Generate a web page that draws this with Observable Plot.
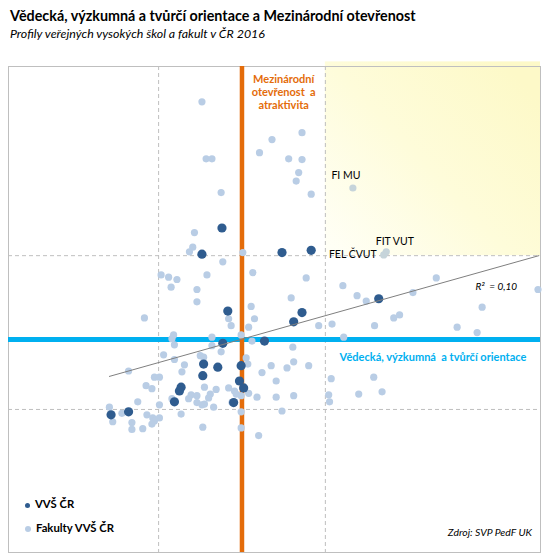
<!DOCTYPE html>
<html><head><meta charset="utf-8">
<script src="https://cdn.jsdelivr.net/npm/d3@7"></script>
<script src="https://cdn.jsdelivr.net/npm/@observablehq/plot@0.6"></script>
<style>
html,body{margin:0;padding:0;background:#fff;}
body{width:548px;height:559px;position:relative;overflow:hidden;font-family:Lato,"Open Sans",sans-serif;color:#000;}
#title{position:absolute;left:10px;top:7px;font-weight:bold;font-size:14.3px;line-height:17px;white-space:nowrap;}
#subtitle{position:absolute;left:10px;top:26px;font-style:italic;font-size:12.4px;line-height:15px;white-space:nowrap;}
#chart{position:absolute;left:0;top:56px;}
.leg{position:absolute;left:25px;font-weight:bold;font-size:11.3px;line-height:14px;white-space:nowrap;}
.leg span.d{display:inline-block;border-radius:50%;vertical-align:middle;margin-right:5px;}
#source{position:absolute;right:16px;top:525px;font-style:italic;font-size:10.4px;line-height:14px;white-space:nowrap;}
</style>
</head><body>
<div id="title"></div>
<div id="subtitle"></div>
<div id="chart"></div>
<div class="leg" id="leg1" style="top:497px"></div>
<div class="leg" id="leg2" style="top:521px"></div>
<div id="source"></div>
<script>
const titleText = "Vědecká, výzkumná a tvůrčí orientace a Mezinárodní otevřenost";
const subtitleText = "Profily veřejných vysokých škol a fakult v ČR 2016";
const sourceText = "Zdroj: SVP PedF UK";
const seriesNames = ["VVŠ ČR", "Fakulty VVŠ ČR"];
const xLabel = "Vědecká, výzkumná  a tvůrčí orientace";
const yLabel = "Mezinárodní\notevřenost  a\natraktivita";
const r2Label = "R²  = 0,10";

// Fakulty VVŠ ČR  [x = vědecká orientace, y = mezinárodní otevřenost]
const faculties = [
[-0.48,3.00],[0.36,2.51],[0.72,2.60],[0.21,2.34],[-0.43,2.26],[-0.36,2.26],[0.56,2.26],[0.72,2.25],
[0.68,2.08],[0.65,1.97],[0.83,1.80],[-0.25,1.82],[-0.57,1.30],[-0.59,1.11],[-0.63,1.05],[0.01,1.04],
[-0.23,0.92],[0.13,0.78],[-0.42,0.75],[-0.97,0.75],[-0.88,0.72],[-0.78,0.69],[-0.85,0.59],[-0.54,0.56],
[-0.54,0.40],[0.11,0.34],[0.77,0.71],[1.21,0.61],[1.38,0.48],[1.49,0.41],[0.59,0.45],[2.05,0.52],
[2.33,0.71],[3.55,0.56],[2.88,0.33],[-1.17,0.19],[-0.16,0.18],[0.15,0.18],[-0.13,0.09],[0.08,0.07],
[-0.82,-0.03],[-0.84,-0.08],[-0.81,-0.16],[-0.36,-0.06],[-0.36,-0.17],[-0.01,-0.03],[0.12,-0.11],[0.92,0.09],
[1.08,0.11],[1.59,0.09],[1.82,0.19],[1.89,0.23],[1.22,-0.06],[2.58,0.07],[2.82,0.00],[-0.25,-0.25],
[-0.94,-0.29],[-0.50,-0.30],[-0.46,-0.32],[-0.81,-0.35],[-0.69,-0.42],[0.05,-0.33],[0.07,-0.41],[0.61,-0.19],
[0.62,-0.38],[0.54,-0.46],[0.80,-0.43],[0.35,-0.43],[-1.36,-0.50],[-0.72,-0.51],[-1.05,-0.58],[-0.99,-0.58],
[0.24,-0.52],[0.41,-0.63],[1.07,-0.60],[1.58,-0.58],[-1.15,-0.69],[-1.08,-0.73],[-0.45,-0.71],[-0.31,-0.74],
[-0.16,-0.72],[-0.09,-0.76],[-0.07,-0.80],[-0.01,-0.82],[0.08,-0.79],[0.18,-0.84],[0.41,-0.84],[0.62,-0.82],
[1.04,-0.81],[1.05,-0.90],[1.40,-0.80],[1.68,-0.77],[-1.25,-0.90],[-0.84,-0.86],[-0.64,-0.86],[-0.61,-0.81],
[-0.54,-0.82],[-0.38,-0.80],[-0.40,-0.85],[-0.54,-0.91],[-0.48,-0.94],[-0.45,-0.93],[-0.34,-0.97],[-0.12,-0.91],
[-0.99,-0.94],[-0.73,-1.06],[-0.01,-1.03],[0.48,-1.02],[-1.59,-0.97],[-1.55,-1.16],[-1.44,-1.05],[-1.14,-1.07],
[-1.32,-1.17],[-1.32,-1.26],[-1.19,-1.25],[-1.07,-1.11],[-1.05,-1.15],[-1.08,-1.19],[-0.99,-1.11],[-0.47,-1.23],
[-0.01,-1.24],[0.20,-1.34]
];

// Fakulty s popiskem
const labeledNames = ["FI MU", "FIT VUT", "FEL ČVUT"];
const labeledX = [1.33, 1.73, 1.70];
const labeledY = [1.88, 1.05, 1.01];

// VVŠ ČR
const universities = [
[-0.24,1.36],[-0.48,1.02],[0.48,1.04],[0.83,1.07],[-0.17,0.28],[0.72,0.26],[0.62,0.14],[1.64,0.44],
[-0.23,-0.14],[0.27,-0.11],[-0.46,-0.41],[-0.29,-0.45],[-0.01,-0.43],[-0.47,-0.56],[-0.03,-0.63],[0.02,-0.72],
[-0.73,-0.71],[-0.75,-0.76],[-0.81,-0.90],[-0.10,-0.91],[-1.36,-1.03],[-1.57,-1.07]
];

// Lineární trend (koncové body)
const trendX = [-1.59, 3.56];
const trendY = [-0.57, 1.00];

const gridX = [-1, 1];
const gridY = [-1, 1];
const meanX = 0;       // oranžová osa
const meanY = -0.09;   // modrá osa
const xDomain = [-2.8, 3.58];
const yDomain = [-2.86, 3.46];

const facData = faculties.map(([x, y]) => ({x, y}));
const uniData = universities.map(([x, y]) => ({x, y}));
const labData = labeledNames.map((name, i) => ({name, x: labeledX[i], y: labeledY[i]}));
const trendData = trendX.map((x, i) => ({x, y: trendY[i]}));

const plot = Plot.plot({
  width: 548, height: 503,
  marginTop: 10, marginBottom: 7, marginLeft: 8, marginRight: 8,
  style: {fontFamily: "Lato, 'Open Sans', sans-serif", background: "transparent"},
  x: {domain: xDomain, axis: null},
  y: {domain: yDomain, axis: null},
  marks: [
    Plot.rect([{x1: gridX[1], x2: xDomain[1], y1: gridY[1], y2: 3.52}], {x1: "x1", x2: "x2", y1: "y1", y2: "y2", fill: "url(#yellowGrad)"}),
    Plot.ruleX(gridX, {stroke: "#bfbfbf", strokeDasharray: "4,3", strokeWidth: 1}),
    Plot.ruleY(gridY, {stroke: "#bfbfbf", strokeDasharray: "4,3", strokeWidth: 1}),
    Plot.frame({stroke: "#bfbfbf"}),
    Plot.ruleY([meanY], {stroke: "#00b0f0", strokeWidth: 5}),
    Plot.ruleX([meanX], {stroke: "#e46c0a", strokeWidth: 4.5}),
    Plot.dot(facData, {x: "x", y: "y", r: 3.6, fill: "#b9cde5", stroke: "none"}),
    Plot.dot(labData, {x: "x", y: "y", r: 3.6, fill: "#c6d4da", stroke: "none"}),
    Plot.dot(uniData, {x: "x", y: "y", r: 4.6, fill: "#2f5c8f", stroke: "none"}),
    Plot.line(trendData, {x: "x", y: "y", stroke: "#7f7f7f", strokeWidth: 1}),
    Plot.text([labData[0]], {x: "x", y: "y", text: "name", textAnchor: "start", dx: -21.5, dy: -12, fontSize: 10.5, fill: "#000"}),
    Plot.text([labData[1]], {x: "x", y: "y", text: "name", textAnchor: "start", dx: -10.5, dy: -10, fontSize: 10.5, fill: "#000"}),
    Plot.text([labData[2]], {x: "x", y: "y", text: "name", textAnchor: "end", dx: -7, dy: 0, fontSize: 10.5, fill: "#000"}),
    Plot.text([yLabel], {x: 0.5, y: 3.13, text: d => d, fill: "#e46c0a", fontWeight: "bold", fontSize: 11, lineHeight: 1.2}),
    Plot.text([xLabel], {x: 2.29, y: -0.325, text: d => d, fill: "#00b0f0", fontWeight: "bold", fontSize: 11}),
    Plot.text([r2Label], {x: 3.05, y: 0.60, text: d => d, fill: "#000", fontStyle: "italic", fontSize: 10})
  ]
});

const defs = d3.select(plot).insert("defs", ":first-child");
const g = defs.append("linearGradient").attr("id", "yellowGrad")
  .attr("x1", "1").attr("y1", "0.2").attr("x2", "0.05").attr("y2", "1");
g.append("stop").attr("offset", "0%").attr("stop-color", "#fdf9c8");
g.append("stop").attr("offset", "50%").attr("stop-color", "#fefcda");
g.append("stop").attr("offset", "100%").attr("stop-color", "#fffff6");
plot.style.overflow = "visible";

document.getElementById("chart").appendChild(plot);
document.getElementById("title").textContent = titleText;
document.getElementById("subtitle").textContent = subtitleText;
document.getElementById("source").textContent = sourceText;
document.getElementById("leg1").innerHTML = '<span class="d" style="width:5px;height:5px;background:#2f5c8f"></span>' + seriesNames[0];
document.getElementById("leg2").innerHTML = '<span class="d" style="width:6px;height:6px;background:#b9cde5"></span>' + seriesNames[1];
</script>
</body></html>
